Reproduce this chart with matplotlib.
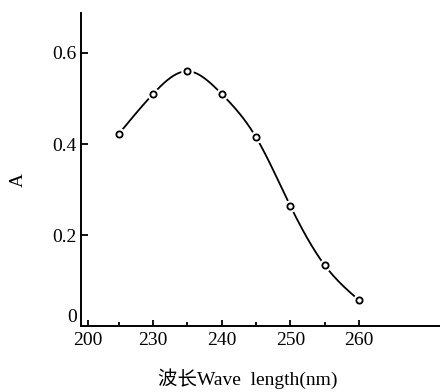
import numpy as np
import matplotlib
matplotlib.use("Agg")
import matplotlib.pyplot as plt

wavelength = [225, 230, 235, 240, 245, 250, 255, 260]
absorbance = [0.422, 0.510, 0.560, 0.510, 0.415, 0.264, 0.134, 0.057]
xtick_pos = [220.5, 230, 240, 250, 260]
xtick_labels = ["200", "230", "240", "250", "260"]
xminor = [225, 235, 245, 255]
yticks = [0, 0.2, 0.4, 0.6]
ytick_labels = ["0", "0.2", "0.4", "0.6"]

plt.rcParams['font.family'] = ['Liberation Serif', 'Noto Sans CJK SC']

fig = plt.figure(figsize=(4.4, 3.92), dpi=100)
ax = fig.add_axes([0.184, 0.168, 0.816, 0.799])

# smooth curve through the data (natural cubic spline, computed at draw time)
x = np.array(wavelength, float)
y = np.array(absorbance, float)
n = len(x)
h = np.diff(x)
A = np.zeros((n, n)); b = np.zeros(n)
A[0, 0] = A[-1, -1] = 1
for i in range(1, n - 1):
    A[i, i - 1] = h[i - 1]; A[i, i] = 2 * (h[i - 1] + h[i]); A[i, i + 1] = h[i]
    b[i] = 3 * ((y[i + 1] - y[i]) / h[i] - (y[i] - y[i - 1]) / h[i - 1])
c = np.linalg.solve(A, b)
xs, ys = [], []
for i in range(n - 1):
    t = np.linspace(0, h[i], 30)
    bi = (y[i + 1] - y[i]) / h[i] - h[i] * (2 * c[i] + c[i + 1]) / 3
    di = (c[i + 1] - c[i]) / (3 * h[i])
    xs.append(x[i] + t); ys.append(y[i] + bi * t + c[i] * t ** 2 + di * t ** 3)
xs = np.concatenate(xs); ys = np.concatenate(ys)
ax.plot(xs, ys, color='black', lw=1.3, zorder=2)
ax.plot(wavelength, absorbance, 'o', ms=8, mfc='white', mec='white', zorder=3)
ax.plot(wavelength, absorbance, 'o', ms=4.5, mfc='white', mec='black', mew=1.3, zorder=4)

ax.set_xlim(219.5, 271.8)
ax.set_ylim(0, 0.688)
for s in ['top', 'right']:
    ax.spines[s].set_visible(False)
for s in ['left', 'bottom']:
    ax.spines[s].set_linewidth(1.4)
ax.set_xticks(xtick_pos)
ax.set_xticklabels(xtick_labels)
ax.set_xticks(xminor, minor=True)
ax.set_yticks(yticks)
ax.set_yticklabels(ytick_labels)
ax.tick_params(axis='both', which='both', direction='in', labelsize=14, width=1.3)
ax.tick_params(axis='x', which='major', length=4, pad=4)
ax.tick_params(axis='x', which='minor', length=3)
ax.tick_params(axis='y', length=5, pad=3)
ax.get_yticklabels()[0].set_verticalalignment('bottom')

fig.text(0.564, 0.034, "波长Wave  length(nm)", ha='center', va='center', fontsize=14)
fig.text(0.041, 0.54, "A", ha='center', va='center', rotation=90, fontsize=14)

fig.savefig("out.png", dpi=100)
